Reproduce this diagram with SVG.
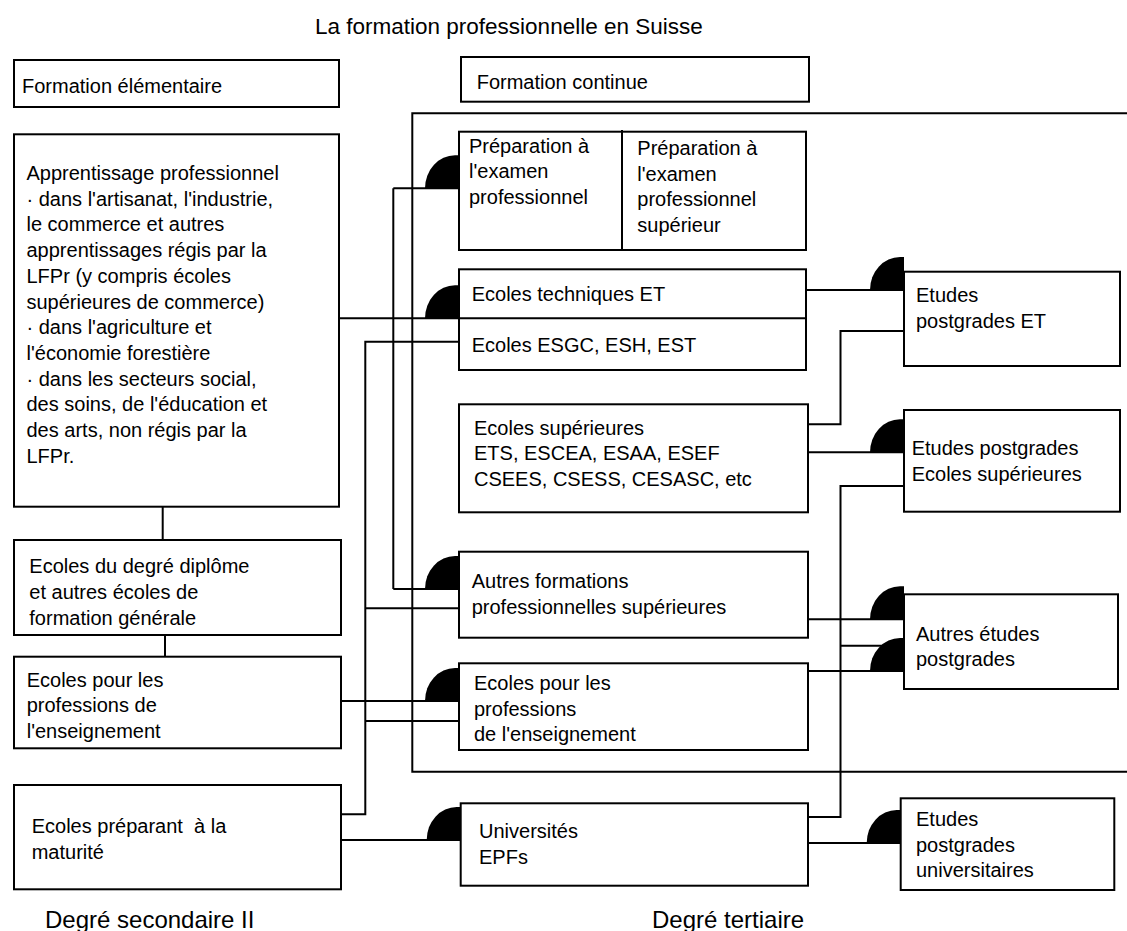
<svg xmlns="http://www.w3.org/2000/svg" width="1127" height="931" viewBox="0 0 1127 931">
<style>
text{font-family:"Liberation Sans",Arial,sans-serif;font-size:20px;fill:#000}
.big{font-size:24px}
.title{font-size:22.5px}
.box{fill:#fff;stroke:#000;stroke-width:2}
.ln{fill:none;stroke:#000;stroke-width:2}
.pre{white-space:pre}
</style>
<defs>
<marker id="disc" markerUnits="userSpaceOnUse" markerWidth="40" markerHeight="40" refX="0" refY="0" orient="auto" overflow="visible">
<path d="M-34,0 A30,33 0 0 1 -4,-33 H0 V0 Z" fill="#000"/>
</marker>
</defs>
<rect width="1127" height="931" fill="#fff"/>
<text class="title" x="315" y="34">La formation professionnelle en Suisse</text>

<g id="frame"><path class="ln" d="M1127,113.3 H412.3 V771.7 H1127"/></g>

<g id="connectors">
<path class="ln" d="M339,318.3 H459" marker-end="url(#disc)"/>
<path class="ln" d="M393.3,188.3 V589"/>
<path class="ln" d="M393.3,188.3 H459" marker-end="url(#disc)"/>
<path class="ln" d="M393.3,589 H459" marker-end="url(#disc)"/>
<path class="ln" d="M341,814.3 H365.3 V341.7 H459"/>
<path class="ln" d="M365.3,608.3 H459"/>
<path class="ln" d="M365.3,721 H459"/>
<path class="ln" d="M341,701 H459" marker-end="url(#disc)"/>
<path class="ln" d="M341,840 H460.7" marker-end="url(#disc)"/>
<path class="ln" d="M162.7,507 V540"/>
<path class="ln" d="M165,635 V657"/>
<path class="ln" d="M806,290 H904" marker-end="url(#disc)"/>
<path class="ln" d="M808,424.3 H840.5 V331 H904"/>
<path class="ln" d="M808,452.3 H904" marker-end="url(#disc)"/>
<path class="ln" d="M808,817 H840.5 V486 H904"/>
<path class="ln" d="M840.5,645.7 H904"/>
<path class="ln" d="M808,619.3 H904" marker-end="url(#disc)"/>
<path class="ln" d="M808,671 H904" marker-end="url(#disc)"/>
<path class="ln" d="M808,843 H900.7" marker-end="url(#disc)"/>
</g>

<g id="n_elem"><rect class="box" x="14" y="60" width="325" height="47"/>
<text x="22" y="93">Formation élémentaire</text></g>

<g id="n_appr"><rect class="box" x="14" y="134.3" width="325" height="372.4"/>
<text x="26.5" y="180">Apprentissage professionnel</text>
<text x="26.5" y="205.7">· dans l'artisanat, l'industrie,</text>
<text x="26.5" y="231.4">le commerce et autres</text>
<text x="26.5" y="257.1">apprentissages régis par la</text>
<text x="26.5" y="282.8">LFPr (y compris écoles</text>
<text x="26.5" y="308.5">supérieures de commerce)</text>
<text x="26.5" y="334.2">· dans l'agriculture et</text>
<text x="26.5" y="359.9">l'économie forestière</text>
<text x="26.5" y="385.6">· dans les secteurs social,</text>
<text x="26.5" y="411.3">des soins, de l'éducation et</text>
<text x="26.5" y="437">des arts, non régis par la</text>
<text x="26.5" y="462.7">LFPr.</text></g>

<g id="n_diplome"><rect class="box" x="14" y="540" width="327" height="95"/>
<text x="29.3" y="573.3">Ecoles du degré diplôme</text>
<text x="29.3" y="599">et autres écoles de</text>
<text x="29.3" y="624.7">formation générale</text></g>

<g id="n_ens_left"><rect class="box" x="14" y="656.7" width="327" height="91.6"/>
<text x="26.7" y="686.7">Ecoles pour les</text>
<text x="26.7" y="712.3">professions de</text>
<text x="26.7" y="738">l'enseignement</text></g>

<g id="n_matu"><rect class="box" x="14" y="785" width="327" height="104.3"/>
<text class="pre" x="31.7" y="833.3">Ecoles préparant  à la</text>
<text x="31.7" y="859">maturité</text></g>

<text class="big" x="45" y="928">Degré secondaire II</text>

<g id="n_continue"><rect class="box" x="461" y="57" width="348" height="44.7"/>
<text x="476.7" y="89">Formation continue</text></g>

<g id="n_prep"><rect class="box" x="459" y="131.7" width="347" height="118.3"/>
<path class="ln" d="M622,130 V250"/>
<text x="469" y="152.5">Préparation à</text>
<text x="469" y="178">l'examen</text>
<text x="469" y="203.5">professionnel</text>
<text x="637.3" y="155">Préparation à</text>
<text x="637.3" y="180.5">l'examen</text>
<text x="637.3" y="206">professionnel</text>
<text x="637.3" y="231.5">supérieur</text></g>

<g id="n_et"><rect class="box" x="459" y="269.3" width="347" height="100.7"/>
<path class="ln" d="M459,318.3 H806"/>
<text x="471.7" y="301">Ecoles techniques ET</text>
<text x="471.7" y="352">Ecoles ESGC, ESH, EST</text></g>

<g id="n_sup"><rect class="box" x="459" y="404.3" width="349" height="108"/>
<text x="474" y="434.5">Ecoles supérieures</text>
<text x="474" y="460">ETS, ESCEA, ESAA, ESEF</text>
<text x="474" y="485.7">CSEES, CSESS, CESASC, etc</text></g>

<g id="n_autres"><rect class="box" x="459" y="551.7" width="349" height="86"/>
<text x="471.7" y="588.3">Autres formations</text>
<text x="471.7" y="614">professionnelles supérieures</text></g>

<g id="n_ens_right"><rect class="box" x="459" y="663.3" width="349" height="86.7"/>
<text x="474" y="690">Ecoles pour les</text>
<text x="474" y="715.7">professions</text>
<text x="474" y="741">de l'enseignement</text></g>

<g id="n_univ"><rect class="box" x="460.7" y="803.3" width="347.3" height="82.4"/>
<text x="479" y="838.3">Universités</text>
<text x="479" y="864">EPFs</text></g>

<text class="big" x="652" y="928">Degré tertiaire</text>

<g id="n_pg_et"><rect class="box" x="904" y="271.7" width="216" height="94.3"/>
<text x="916" y="301.7">Etudes</text>
<text x="916" y="328.3">postgrades ET</text></g>

<g id="n_pg_sup"><rect class="box" x="904" y="410" width="216" height="101.7"/>
<text x="911.7" y="455">Etudes postgrades</text>
<text x="911.7" y="481">Ecoles supérieures</text></g>

<g id="n_pg_autres"><rect class="box" x="904" y="594.3" width="214" height="94.7"/>
<text x="916" y="641">Autres études</text>
<text x="916" y="666">postgrades</text></g>

<g id="n_pg_univ"><rect class="box" x="900.7" y="798.3" width="213.6" height="91.7"/>
<text x="916" y="825.7">Etudes</text>
<text x="916" y="851.7">postgrades</text>
<text x="916" y="876.7">universitaires</text></g>
</svg>
